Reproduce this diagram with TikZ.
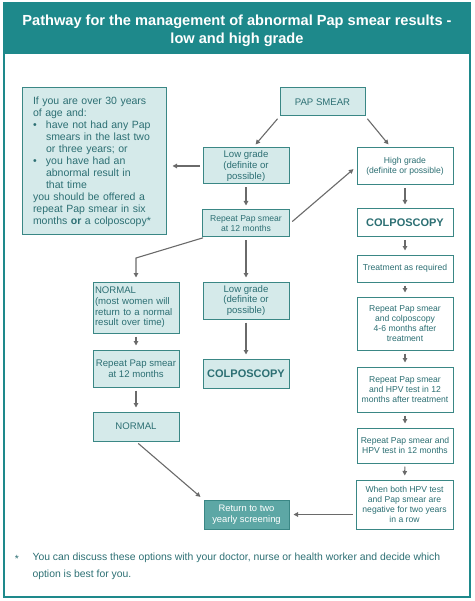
\documentclass[tikz,border=0pt]{standalone}
\usepackage{fontspec}
\setmainfont{Liberation Sans}
\usetikzlibrary{arrows.meta}
\definecolor{headteal}{HTML}{1E898B}
\definecolor{boxline}{HTML}{3A8785}
\definecolor{boxfill}{HTML}{D5EAEA}
\definecolor{boxtext}{HTML}{2C6F73}
\definecolor{backfill}{HTML}{5DA7A5}
\definecolor{arrowgray}{HTML}{6A6A6A}

\begin{document}
\begin{tikzpicture}[x=1pt, y=-1pt, >={Triangle[length=4.5pt,width=4.5pt]},
  box/.style={draw=boxline, line width=1pt, fill=boxfill, text=boxtext, align=center, inner sep=1pt, font=\fontsize{8.6}{10}\selectfont},
  whitebox/.style={box, fill=white},
  bigbox/.style={box, font=\fontsize{9.6}{10.6}\selectfont},
  colpo/.style={font=\fontsize{11}{12}\selectfont\bfseries},
  arr/.style={->, draw=arrowgray, line width=1.1pt, shorten <=3pt, shorten >=4pt}]
\useasboundingbox (0,0) rectangle (474,601);
% frame and title band
\fill[headteal] (4,3) rectangle (470,54);
\draw[headteal, line width=1.6pt] (4,3) rectangle (470,597);
\node[text=white, font=\fontsize{14.6}{18}\selectfont\bfseries, align=center] (title) at (237,31) {Pathway for the management of abnormal Pap smear results -\\low and high grade};
% left and middle column
\node[box, minimum width=144, minimum height=147, text width=122pt, align=left, font=\fontsize{10.5}{12}\selectfont] (offer) at (94,161.5) {If you are over 30 years\\of age and:\\\makebox[13pt][l]{\textbullet}have not had any Pap\\\hspace*{13pt}smears in the last two\\\hspace*{13pt}or three years; or\\\makebox[13pt][l]{\textbullet}you have had an\\\hspace*{13pt}abnormal result in\\\hspace*{13pt}that time\\you should be offered a\\repeat Pap smear in six\\months \textbf{or} a colposcopy*};
\node[bigbox, minimum width=85, minimum height=28] (pap) at (322.5,102) {PAP SMEAR};
\node[bigbox, minimum width=86, minimum height=36] (low1) at (246,166) {Low grade\\(definite or\\possible)};
\node[box, minimum width=87, minimum height=27] (rep1) at (246,223.5) {Repeat Pap smear\\at 12 months};
\node[bigbox, minimum width=86, minimum height=51, text width=82pt, align=left] (norm1) at (136,307.5) {NORMAL\\(most women will\\return to a normal\\result over time)};
\node[bigbox, minimum width=86, minimum height=37] (low2) at (246,300.5) {Low grade\\(definite or\\possible)};
\node[bigbox, minimum width=86, minimum height=37] (rep2) at (136,368.5) {Repeat Pap smear\\at 12 months};
\node[box, colpo, minimum width=86, minimum height=29] (colp2) at (246,373.5) {COLPOSCOPY};
\node[bigbox, minimum width=86, minimum height=29] (norm2) at (136,426.5) {NORMAL};
\node[box, fill=backfill, text=white, font=\fontsize{9.4}{10.6}\selectfont, minimum width=85, minimum height=29] (back) at (246.5,514.5) {Return to two\\yearly screening};
% right column
\node[whitebox, minimum width=96, minimum height=37] (high) at (405,166.5) {High grade\\(definite or possible)};
\node[whitebox, colpo, minimum width=96, minimum height=28] (colp1) at (405,223) {COLPOSCOPY};
\node[whitebox, minimum width=96, minimum height=27] (treat) at (405,268.5) {Treatment as required};
\node[whitebox, minimum width=96, minimum height=53] (rep3) at (405,323.5) {Repeat Pap smear\\and colposcopy\\4-6 months after\\treatment};
\node[whitebox, minimum width=96, minimum height=45] (rep4) at (405,389.5) {Repeat Pap smear\\and HPV test in 12\\months after treatment};
\node[whitebox, minimum width=96, minimum height=35] (rep5) at (405,445.5) {Repeat Pap smear and\\HPV test in 12 months};
\node[whitebox, minimum width=97, minimum height=49] (both) at (404.5,504.5) {When both HPV test\\and Pap smear are\\negative for two years\\in a row};
% footnote
\node[text=boxtext, font=\fontsize{10.4}{17}\selectfont] (star) at (17,559) {*};
\node[text=boxtext, font=\fontsize{10.4}{17}\selectfont, anchor=west, align=left] (note) at (29,566) {You can discuss these options with your doctor, nurse or health worker and decide which\\option is best for you.};
% connectors
\coordinate (bendL) at (136,258);
\draw[arr] (pap.south west) -- ([xshift=7pt]low1.north);\draw[arr] (pap.south east) -- ([xshift=-14pt]high.north);
\draw[arr, shorten >=6pt] (low1.west) -- (low1.west -| offer.east);\draw[arr] (low1) -- (rep1);\draw[arr] (rep1.east) -- (high.west);
\draw[arr, shorten <=1pt] ([xshift=2pt]rep1.south west) -- (bendL) -- (norm1.north);\draw[arr] (rep1) -- (low2);
\draw[arr] (norm1) -- (rep2);\draw[arr] (rep2) -- (norm2);\draw[arr] (low2) -- (colp2);\draw[arr] (norm2.south) -- (back.north west);
\draw[arr] (high) -- (colp1);\draw[arr] (colp1) -- (treat);\draw[arr] (treat) -- (rep3);\draw[arr] (rep3) -- (rep4);\draw[arr] (rep4) -- (rep5);\draw[arr] (rep5) -- (both);
\draw[arr] (both.west |- back.east) -- (back.east);
\end{tikzpicture}
\end{document}
